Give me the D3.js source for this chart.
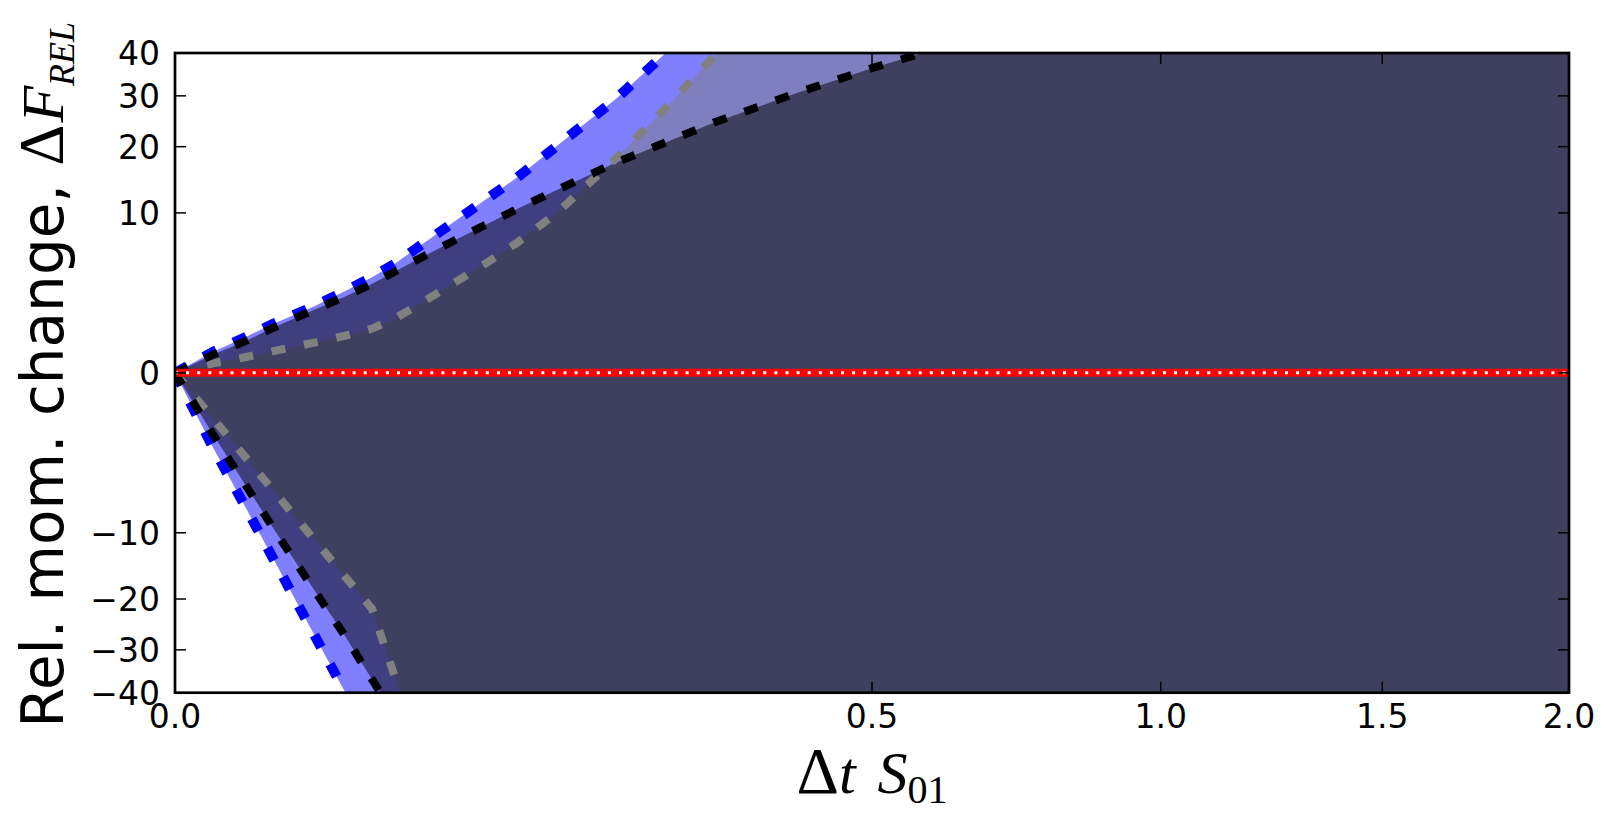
<!DOCTYPE html>
<html><head><meta charset="utf-8">
<script src="https://cdn.jsdelivr.net/npm/d3@7"></script>
<style>body{margin:0;background:#fff}</style>
</head><body>
<svg id="c" width="1615" height="825"></svg>
<script>
// ---- data ----
const dtValues   = [0, 0.0015, 0.005, 0.01, 0.02, 0.03, 0.04, 0.05, 0.06, 0.08, 0.1, 0.12, 0.15, 0.2, 0.25, 0.3, 0.4, 0.5, 0.6, 0.8, 1.0, 1.5, 2.0];
const blueUpper  = [0, 0.174, 0.49, 0.947, 1.74, 2.64, 3.58, 4.69, 6.07, 8.89, 11.84, 14.84, 20.11, 29.32, 40.5, 52, 72, 92, 112, 150, 190, 290, 390];
const blueLower  = [0, -2.2, -6.9, -13.6, -26.9, -40.2, -53.5, -67, -80, -107, -134, -160, -200, -267, -335, -400, -535, -670, -800, -1070, -1340, -2000, -2700];
const grayUpper  = [0, 0.0346, 0.095, 0.184, 0.359, 0.54, 0.768, 1.17, 1.75, 3.15, 4.73, 6.58, 9.98, 17.97, 27.94, 39.5, 65.7, 90, 110, 150, 190, 290, 390];
const grayLower  = [0, -0.82, -2.73, -5.45, -10.9, -16.35, -21.8, -36.5, -52, -78, -100, -120, -150, -200, -250, -300, -400, -500, -600, -800, -1000, -1500, -2000];
const blackUpper = [0, 0.131, 0.386, 0.80, 1.56, 2.29, 3.10, 4.03, 4.97, 6.83, 8.63, 10.45, 13.06, 17.27, 20.94, 24.56, 30.75, 36.3, 41.2, 48, 55, 70, 85];
const blackLower = [0, -1.5, -4.8, -9.5, -18.5, -27.3, -36.8, -46, -55, -73, -91, -109, -136, -180, -225, -270, -360, -450, -540, -720, -900, -1350, -1800];
const refLineX   = [0, 2];
const refLineY   = [0, 0];
const xTickVals   = [0, 0.5, 1.0, 1.5, 2.0];
const xTickLabels = ["0.0", "0.5", "1.0", "1.5", "2.0"];
const yTickVals   = [40, 30, 20, 10, 0, -10, -20, -30, -40];
const yTickLabels = ["40", "30", "20", "10", "0", "\u221210", "\u221220", "\u221230", "\u221240"];

// ---- layout ----
const svg = d3.select("#c");
const L = 175, R = 1569, T = 53, B = 692.7;
const x = d3.scalePow().exponent(0.5).domain([0, 2]).range([L, R]);
const y = d3.scalePow().exponent(0.5).domain([-40, 40]).range([B, T]);

svg.append("rect").attr("width", 1615).attr("height", 825).attr("fill", "#fff");
svg.append("clipPath").attr("id", "clip").append("rect")
  .attr("x", L).attr("y", T).attr("width", R - L).attr("height", B - T);
const g = svg.append("g").attr("clip-path", "url(#clip)");

function band(lo, hi, color) {
  const area = d3.area()
    .x((d, i) => x(dtValues[i]))
    .y0((d, i) => y(lo[i]))
    .y1((d, i) => y(hi[i]));
  g.append("path").datum(dtValues).attr("d", area)
    .attr("fill", color).attr("fill-opacity", 0.5);
}
band(blueLower, blueUpper, "#0000ff");
band(grayLower, grayUpper, "#808080");
band(blackLower, blackUpper, "#000000");

function curve(vals, color, w) {
  const line = d3.line().x((d, i) => x(dtValues[i])).y(d => y(d));
  g.append("path").datum(vals).attr("d", line)
    .attr("fill", "none").attr("stroke", color).attr("stroke-width", w)
    .attr("stroke-dasharray", "14,19");
}
curve(blueUpper, "#0000ff", 10);
curve(blueLower, "#0000ff", 10);
curve(grayUpper, "#808080", 8);
curve(grayLower, "#808080", 8);
curve(blackUpper, "#000000", 8);
curve(blackLower, "#000000", 8);

const refLine = d3.line().x((d, i) => x(refLineX[i])).y(d => y(d));
g.append("path").datum(refLineY).attr("d", refLine)
  .attr("fill", "none").attr("stroke", "#ff0000").attr("stroke-width", 8);
g.append("path").datum(refLineY).attr("d", refLine)
  .attr("fill", "none").attr("stroke", "#ffffff").attr("stroke-width", 3)
  .attr("stroke-dasharray", "3,8.1");

// ---- axes ----
const tickLen = 11;
const ax = svg.append("g").attr("stroke", "#000").attr("stroke-width", 1.5);
xTickVals.forEach(v => {
  ax.append("line").attr("x1", x(v)).attr("x2", x(v)).attr("y1", B).attr("y2", B - tickLen);
  ax.append("line").attr("x1", x(v)).attr("x2", x(v)).attr("y1", T).attr("y2", T + tickLen);
});
yTickVals.forEach(v => {
  ax.append("line").attr("x1", L).attr("x2", L + tickLen).attr("y1", y(v)).attr("y2", y(v));
  ax.append("line").attr("x1", R).attr("x2", R - tickLen).attr("y1", y(v)).attr("y2", y(v));
});
svg.append("rect").attr("x", L).attr("y", T).attr("width", R - L).attr("height", B - T)
  .attr("fill", "none").attr("stroke", "#000").attr("stroke-width", 2.7);

const tf = "DejaVu Sans";
const tfs = 33;
xTickVals.forEach((v, i) => {
  svg.append("text").attr("x", x(v)).attr("y", 728).attr("text-anchor", "middle")
    .attr("font-family", tf).attr("font-size", tfs).text(xTickLabels[i]);
});
yTickVals.forEach((v, i) => {
  svg.append("text").attr("x", L - 15).attr("y", y(v)).attr("dy", "0.36em")
    .attr("text-anchor", "end").attr("font-family", tf).attr("font-size", tfs).text(yTickLabels[i]);
});

// y label
const yl = svg.append("text").attr("transform", `translate(63,${(T + B) / 2 + 2}) rotate(-90)`)
  .attr("text-anchor", "middle").attr("font-family", tf).attr("font-size", 58);
yl.append("tspan").text("Rel. mom. change, ");
yl.append("tspan").attr("font-family", "Liberation Serif").attr("font-size", 64).text("\u0394");
yl.append("tspan").attr("font-family", "Liberation Serif").attr("font-style", "italic").attr("font-size", 60).attr("dx", 2).text("F");
yl.append("tspan").attr("font-family", "Liberation Serif").attr("font-style", "italic").attr("font-size", 36).attr("dy", 11).text("REL");

// x label
const xl = svg.append("text").attr("x", (L + R) / 2).attr("y", 793).attr("text-anchor", "middle")
  .attr("font-family", "Liberation Serif").attr("font-size", 60);
xl.append("tspan").attr("font-size", 66).text("\u0394");
xl.append("tspan").attr("font-style", "italic").text("t");
xl.append("tspan").attr("font-style", "italic").attr("dx", 22).text("S");
xl.append("tspan").attr("font-size", 40).attr("dy", 10).text("01");
</script>
</body></html>
